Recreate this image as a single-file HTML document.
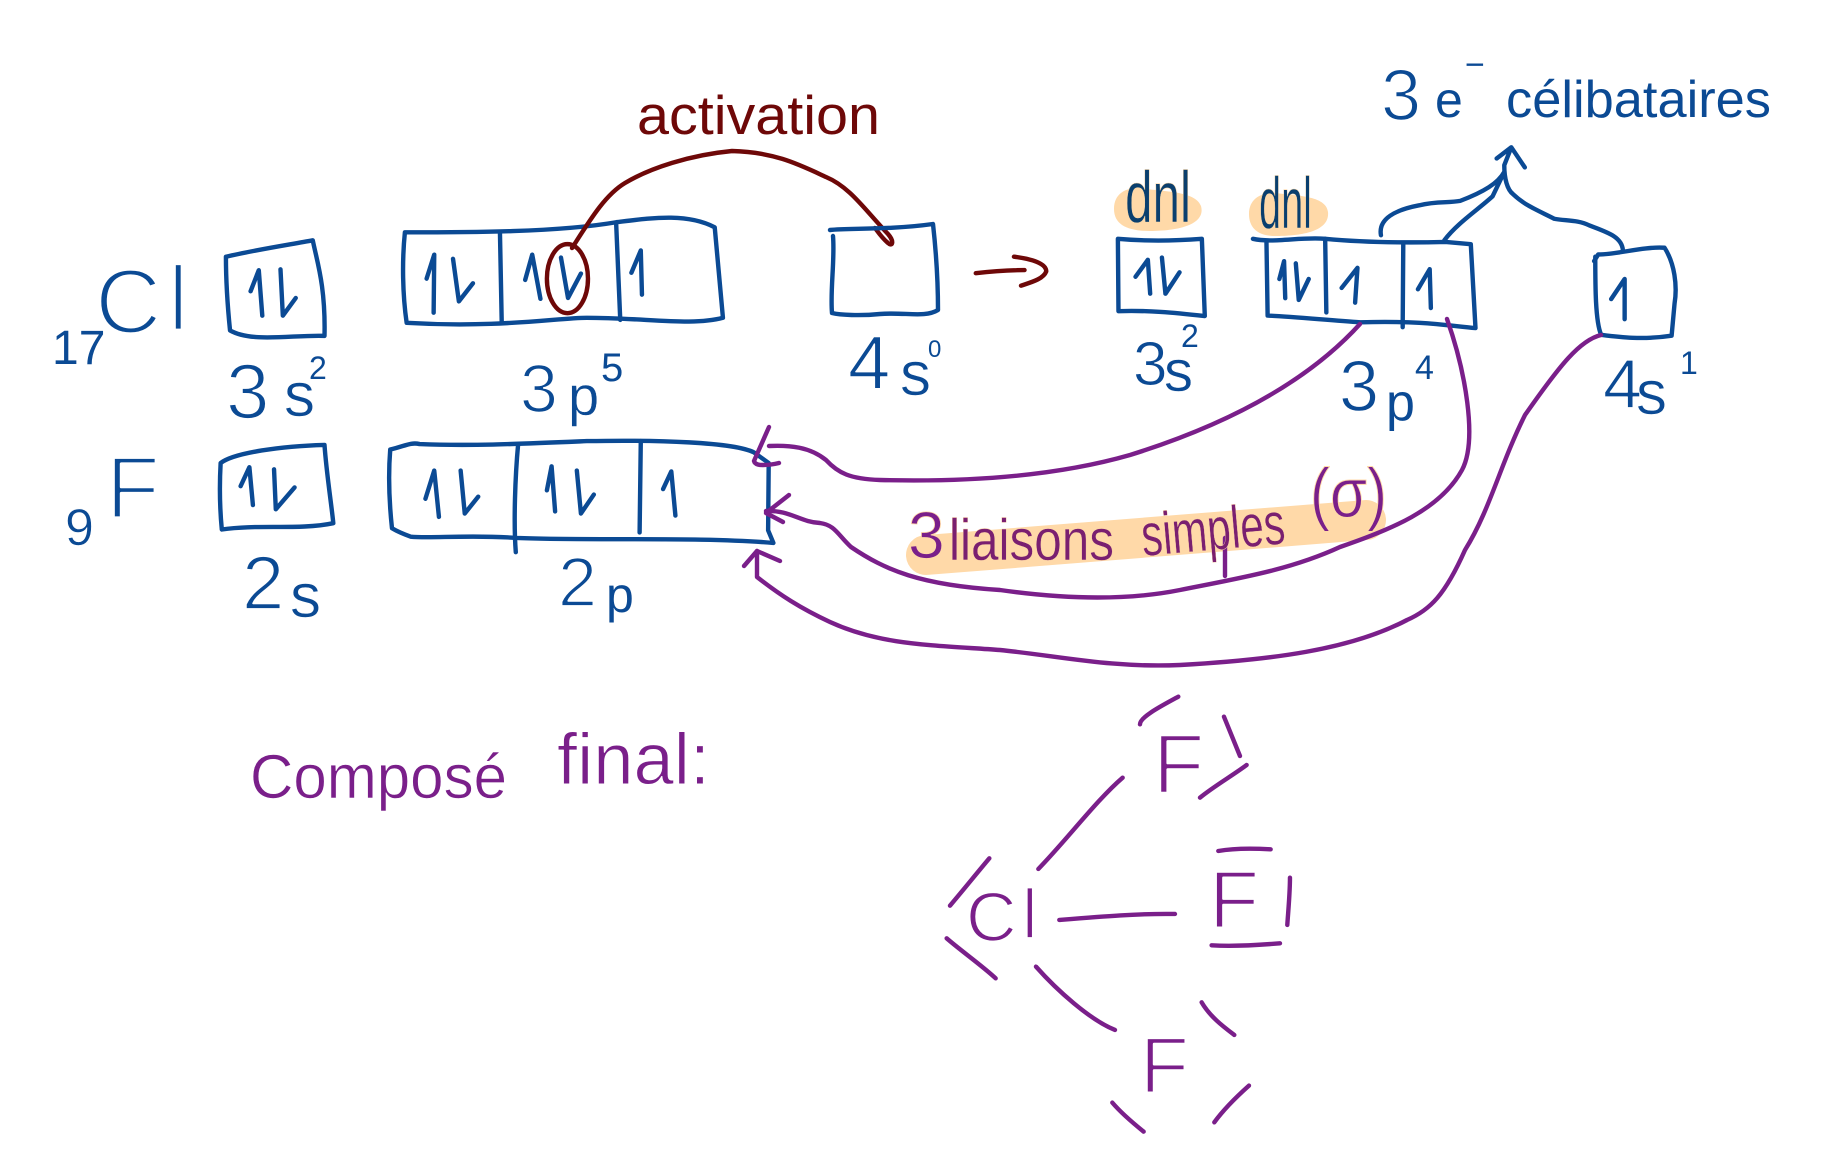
<!DOCTYPE html>
<html lang="fr"><head><meta charset="utf-8"><title>Activation du chlore et composé final</title>
<style>
html,body{margin:0;padding:0;background:#fff}
svg{display:block}
.s{fill:none;stroke-linecap:round;stroke-linejoin:round;stroke-width:4.4;vector-effect:non-scaling-stroke}
.b{stroke:#0b4a94}.r{stroke:#6e0808}.p{stroke:#7a1f8a}
text{font-family:"Liberation Sans",sans-serif;stroke:#fff;stroke-linejoin:round}
.tb{fill:#0b4a94}.tr{fill:#6e0808}.tp{fill:#7a1f8a}
</style></head><body>
<svg xmlns="http://www.w3.org/2000/svg" width="1841" height="1164" viewBox="0 0 1841 1164">
<rect width="1841" height="1164" fill="#fff"/>
<!-- highlights -->
<path d="M1114 209C1114 192 1128 187 1142 188C1160 192 1195 190 1201 206C1206 224 1180 231 1150 231C1128 231 1114 225 1114 209Z" fill="#ffd9a8"/>
<path d="M1249 214C1249 198 1262 192 1276 193C1295 196 1326 195 1328 212C1330 232 1300 236 1275 236C1258 236 1249 228 1249 214Z" fill="#ffd9a8"/>
<line x1="926" y1="555" x2="1366" y2="520" stroke="#ffd9a8" stroke-width="40" stroke-linecap="round"/>

<!-- zoom-1 coordinate space -->
<g transform="scale(.5868,.4209)">
<path class="s b" d="M385 610C430 595 490 582 533 571C540 620 555 680 553 798C500 795 430 815 392 785C388 730 385 670 385 610Z"/>
<path class="s b" d="M427 692L441 642L447 750M478 640L482 750L504 708"/>
<path class="s b" d="M690 552C800 552 950 552 1050 528C1110 518 1170 505 1218 540L1232 755C1180 775 1100 755 1000 755C950 755 850 780 693 767C686 700 685 620 690 552Z"/>
<path class="s b" d="M852 553L855 765M1050 530L1057 760"/>
<path class="s b" d="M727 662L740 605L739 743M772 615L782 716L806 673M895 665L907 605L921 710M956 612L968 708L990 650M1076 648L1092 595L1094 700"/>
<path class="s b" d="M376 1100C400 1075 480 1060 553 1057C556 1120 565 1200 568 1243C510 1260 440 1245 378 1258C374 1200 374 1150 376 1100Z"/>
<path class="s b" d="M410 1155L425 1110L431 1200M467 1115L470 1210L502 1158"/>
<path class="s b" d="M665 1068C690 1060 700 1050 715 1055C800 1060 880 1055 1000 1048C1120 1045 1250 1050 1285 1075L1310 1100L1309 1260L1318 1290C1200 1275 1000 1285 880 1278C800 1270 730 1280 700 1275C690 1270 680 1265 668 1255C663 1190 662 1120 665 1068Z"/>
<path class="s b" d="M883 1055C878 1130 875 1240 879 1312M1092 1048L1090 1265"/>
<path class="s b" d="M725 1185L740 1118L748 1228M785 1118L792 1220L815 1180M932 1165L940 1108L946 1215M983 1118L990 1220L1012 1175M1130 1162L1144 1120L1151 1225"/>
<ellipse class="s r" cx="967" cy="662" rx="35" ry="82"/>
</g>
<path class="s r" d="M572 248C590 220 605 195 625 183C650 168 690 155 732 151C775 152 800 165 826 177C850 187 865 210 888 234C895 242 892 247 888 243C882 238 878 232 875 228"/>
<path class="s b" d="M830 230C850 228 890 230 933 224C937 260 938 290 938 310C925 318 905 312 880 314C860 316 840 315 832 313C830 290 835 260 833 236"/>

<!-- zoom-2 coordinate space -->
<g transform="translate(920,0) scale(.5872,.4464)">
<path class="s r" d="M95 612C120 608 150 605 178 605M160 575C190 580 215 590 215 608C210 625 190 632 172 640"/>
<path class="s b" d="M337 535C380 540 430 540 480 535L485 708C430 700 390 695 338 697Z"/>
<path class="s b" d="M367 620L388 582L392 658M412 577L418 658L442 610"/>
<path class="s b" d="M567 535C600 545 650 530 690 535C730 540 800 545 895 542L938 547L946 735C900 730 860 718 750 722C700 718 640 710 592 707L590 540"/>
<path class="s b" d="M690 535L692 700M823 548L822 733"/>
<path class="s b" d="M612 625L620 585L622 668M640 590L645 672L662 625M718 645L745 600L741 678M848 648L868 603L870 690"/>
<path class="s b" d="M1148 585L1155 570C1190 570 1230 552 1268 555C1285 590 1290 640 1285 680L1280 752C1230 762 1190 755 1160 750C1150 720 1150 640 1150 575"/>
<path class="s b" d="M1177 670L1200 625L1200 715"/>
<path class="s b" d="M785 527C780 490 810 470 850 460C880 450 900 455 920 450C960 430 985 410 995 385M893 538C915 500 950 470 975 440L995 385M1197 560C1195 530 1170 520 1140 505C1120 492 1100 495 1080 490C1050 470 1030 460 1010 435C1000 425 995 400 995 370L1007 330M982 355L1007 330L1030 375"/>
</g>

<!-- purple connectors -->
<path class="s p" d="M1360 324C1300 390 1210 430 1130 455C1050 478 960 482 880 480C850 479 838 473 826 460C810 447 790 445 769 446"/>
<path class="s p" d="M769 427L754 461C755 465 760 465 763 465C770 465 775 464 779 463"/>
<path class="s p" d="M1447 319C1465 370 1478 440 1462 470C1440 510 1390 530 1340 547C1290 570 1240 578 1180 590C1130 600 1070 600 1000 590C920 585 885 570 851 547C838 535 835 525 820 523C800 522 790 510 766 511"/>
<path class="s p" d="M789 495L766 513L783 522"/>
<path class="s p" d="M1601 335C1580 340 1560 365 1525 415C1500 465 1490 510 1465 550C1445 595 1430 610 1407 620C1350 650 1270 660 1180 665C1110 668 1060 656 1000 650C930 645 880 645 830 622C800 608 780 595 757 577L757 551"/>
<path class="s p" d="M744 566L757 551L780 561"/>
<path class="s p" d="M1225 538L1225 576"/>

<!-- Lewis structure lines -->
<g transform="translate(900,680) scale(.3333)">
<path class="s p" d="M720 133C720 110 790 75 835 50M972 110L1020 228M900 353C940 320 1000 285 1040 255M668 293C590 360 500 480 415 567M268 535C230 580 190 630 150 677M140 775C180 810 250 860 287 895M478 720C600 710 720 700 825 702M955 513C1000 505 1060 505 1112 508M1170 593C1170 640 1165 690 1162 735M935 796C1000 800 1080 795 1140 790M408 860C470 930 570 1020 645 1050M905 967C930 1010 970 1040 1003 1065M1047 1217C1010 1250 970 1290 943 1327M637 1268C660 1295 700 1330 731 1355"/>
</g>

<!-- labels -->
<text class="tb" stroke-width="0"><tspan x="52" y="364" font-size="48">17</tspan></text>
<text class="tb" stroke-width="3.2" font-size="92"><tspan x="95" y="333">C</tspan><tspan x="168" y="330">l</tspan></text>
<text class="tb" stroke-width="1.8"><tspan x="226" y="418" font-size="78">3</tspan><tspan x="284" y="416" font-size="62" stroke-width=".6">s</tspan><tspan x="309" y="379" font-size="32" stroke-width="0">2</tspan></text>
<text class="tb" stroke-width="1.6"><tspan x="520" y="412" font-size="68">3</tspan><tspan x="568" y="415" font-size="56" stroke-width=".4">p</tspan><tspan x="601" y="381" font-size="40" stroke-width="0">5</tspan></text>
<text class="tb" stroke-width="1.4"><tspan x="848" y="389" font-size="76">4</tspan><tspan x="900" y="395" font-size="62" stroke-width=".6">s</tspan><tspan x="928" y="357" font-size="24" stroke-width="0">0</tspan></text>
<text class="tb" stroke-width=".6"><tspan x="65" y="545" font-size="52">9</tspan><tspan x="106" y="518" font-size="88" stroke-width="3.2">F</tspan></text>
<text class="tb" stroke-width="1.8"><tspan x="242" y="609" font-size="76">2</tspan><tspan x="290" y="617" font-size="62" stroke-width=".6">s</tspan></text>
<text class="tb" stroke-width="1.8"><tspan x="558" y="606" font-size="70">2</tspan><tspan x="606" y="612" font-size="50" stroke-width="0">p</tspan></text>
<text class="tr" stroke-width="0" x="637" y="134" font-size="55" textLength="243" lengthAdjust="spacingAndGlyphs">activation</text>
<text class="tb" stroke-width="1.6"><tspan x="1381" y="120" font-size="72">3</tspan><tspan x="1435" y="117" font-size="50" stroke-width="0">e</tspan><tspan x="1465" y="76" font-size="34" stroke-width="0">−</tspan></text>
<text class="tb" stroke-width="0" x="1506" y="117" font-size="52" textLength="265" lengthAdjust="spacingAndGlyphs">célibataires</text>
<text fill="#0a3f6e" stroke-width=".6" style="stroke:#ffd9a8" x="1125" y="222" font-size="72" textLength="66" lengthAdjust="spacingAndGlyphs">dnl</text>
<text fill="#0a3f6e" stroke-width=".6" style="stroke:#ffd9a8" x="1259" y="228" font-size="72" textLength="53" lengthAdjust="spacingAndGlyphs">dnl</text>
<text class="tb" stroke-width="1"><tspan x="1133" y="385" font-size="62">3</tspan><tspan x="1164" y="391" font-size="58" stroke-width=".4">s</tspan><tspan x="1181" y="347" font-size="32" stroke-width="0">2</tspan></text>
<text class="tb" stroke-width="1.4"><tspan x="1339" y="411" font-size="72">3</tspan><tspan x="1386" y="420" font-size="52" stroke-width="0">p</tspan><tspan x="1415" y="379" font-size="34" stroke-width="0">4</tspan></text>
<text class="tb" stroke-width="1.2"><tspan x="1603" y="408" font-size="70">4</tspan><tspan x="1636" y="414" font-size="62" stroke-width=".6">s</tspan><tspan x="1680" y="374" font-size="32" stroke-width="0">1</tspan></text>

<!-- 3 liaisons simples (σ) -->
<text class="tp" style="stroke:#ffd9a8" stroke-width=".8" x="908" y="558" font-size="66">3</text>
<text fill="#7a1f70" style="stroke:#ffd9a8" stroke-width=".4" x="949" y="560" font-size="58" textLength="165" lengthAdjust="spacingAndGlyphs">liaisons</text>
<text fill="#7a1f70" style="stroke:#ffd9a8" stroke-width=".4" transform="rotate(-5 1143 556)" x="1143" y="556" font-size="60" textLength="144" lengthAdjust="spacingAndGlyphs">simples</text>
<text class="tp" style="stroke:#ffd9a8" stroke-width="1" x="1310" y="517" font-size="70" textLength="77" lengthAdjust="spacingAndGlyphs">(σ)</text>

<!-- Composé final -->
<text class="tp" stroke-width=".6" x="250" y="798" font-size="62" textLength="257" lengthAdjust="spacingAndGlyphs">Composé</text>
<text class="tp" stroke-width="1" x="557" y="784" font-size="72" textLength="153" lengthAdjust="spacingAndGlyphs">final:</text>

<!-- Lewis atoms -->
<text class="tp" stroke-width="2.6" x="1153" y="793" font-size="84">F</text>
<text class="tp" stroke-width="1.8" font-size="70"><tspan x="966" y="941">C</tspan><tspan x="1022" y="938">l</tspan></text>
<text class="tp" stroke-width="2.4" x="1209" y="928" font-size="82">F</text>
<text class="tp" stroke-width="2.4" x="1140" y="1093" font-size="80">F</text>
</svg>
</body></html>
